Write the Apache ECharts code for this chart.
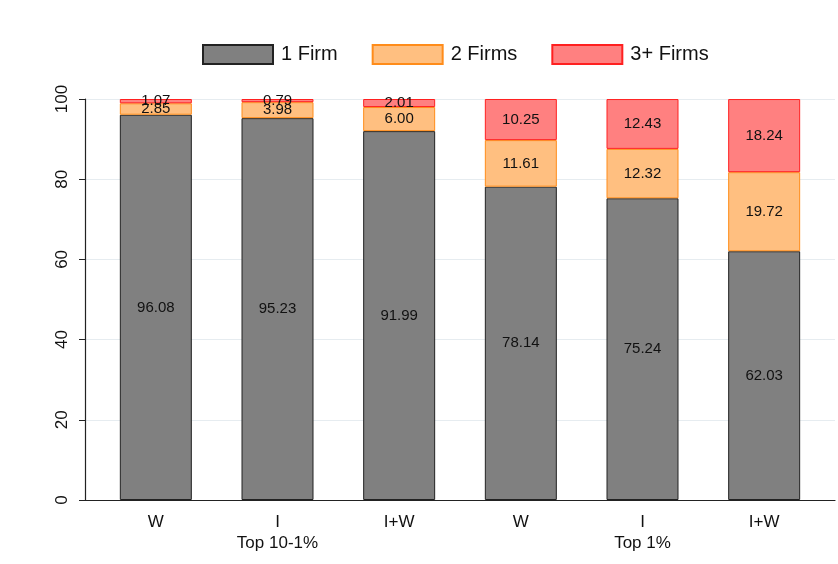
<!DOCTYPE html>
<html>
<head>
<meta charset="utf-8">
<script src="https://cdn.jsdelivr.net/npm/echarts@6/dist/echarts.min.js"></script>
<style>html,body{margin:0;padding:0;background:#fff;}#c{width:838px;height:564px;}</style>
</head>
<body>
<div id="c"></div>
<script>
const categories = ["W", "I", "I+W", "W", "I", "I+W"];
const groupLabels = ["", "Top 10-1%", "", "", "Top 1%", ""];
const oneFirm = [96.08, 95.23, 91.99, 78.14, 75.24, 62.03];
const twoFirms = [2.85, 3.98, 6.00, 11.61, 12.32, 19.72];
const threePlusFirms = [1.07, 0.79, 2.01, 10.25, 12.43, 18.24];
const yTicks = [0, 20, 40, 60, 80, 100];

const FONT = "Liberation Sans, Arial, sans-serif";
const chart = echarts.init(document.getElementById('c'));
const lbl = {show: true, position: 'inside', color: '#111', fontSize: 15, fontFamily: FONT,
  formatter: p => p.value.toFixed(2)};
chart.setOption({
  animation: false,
  backgroundColor: '#fff',
  legend: {
    top: 39, left: 197, itemWidth: 70, itemHeight: 19, itemGap: 34, icon: 'rect',
    textStyle: {fontSize: 20, fontFamily: FONT, color: '#111', padding: [0, 0, 0, 3]},
    data: ['1 Firm', '2 Firms', '3+ Firms']
  },
  grid: [
    {left: 85, right: 3, top: 99, bottom: 64},
    {left: 95, right: 13, top: 99, bottom: 64}
  ],
  xAxis: [
    {gridIndex: 0, type: 'value', min: 0, max: 1, axisLine: {show: true, lineStyle: {color: '#222', width: 1.2}},
     axisTick: {show: false}, axisLabel: {show: false}, splitLine: {show: false}},
    {gridIndex: 1, type: 'category', data: categories, axisLine: {show: false}, axisTick: {show: false},
     axisLabel: {margin: 12, fontSize: 17, fontFamily: FONT, color: '#111', lineHeight: 21,
       formatter: (v, i) => groupLabels[i] ? v + '\n' + groupLabels[i] : v}}
  ],
  yAxis: [
    {gridIndex: 0, type: 'value', min: 0, max: 100, interval: 20,
     axisLine: {show: true, lineStyle: {color: '#222', width: 1.2}},
     axisTick: {show: true, length: 6, lineStyle: {color: '#222'}},
     axisLabel: {rotate: 90, margin: 14, align: 'center', verticalAlign: 'bottom',
       fontSize: 17, fontFamily: FONT, color: '#111', formatter: v => String(v)},
     splitLine: {show: true, lineStyle: {color: '#e6ecf0', width: 1}}},
    {gridIndex: 1, type: 'value', min: 0, max: 100, show: false, splitLine: {show: false}}
  ],
  series: [
    {name: '1 Firm', type: 'bar', stack: 's', xAxisIndex: 1, yAxisIndex: 1, barWidth: 72, data: oneFirm,
     itemStyle: {color: '#808080', borderColor: '#222', borderWidth: 1}, label: lbl},
    {name: '2 Firms', type: 'bar', stack: 's', xAxisIndex: 1, yAxisIndex: 1, barWidth: 72, data: twoFirms,
     itemStyle: {color: '#ffbf80', borderColor: '#ff8c1a', borderWidth: 1}, label: lbl},
    {name: '3+ Firms', type: 'bar', stack: 's', xAxisIndex: 1, yAxisIndex: 1, barWidth: 72, data: threePlusFirms,
     itemStyle: {color: '#ff8080', borderColor: '#ff2020', borderWidth: 1}, label: lbl}
  ]
});
</script>
</body>
</html>
